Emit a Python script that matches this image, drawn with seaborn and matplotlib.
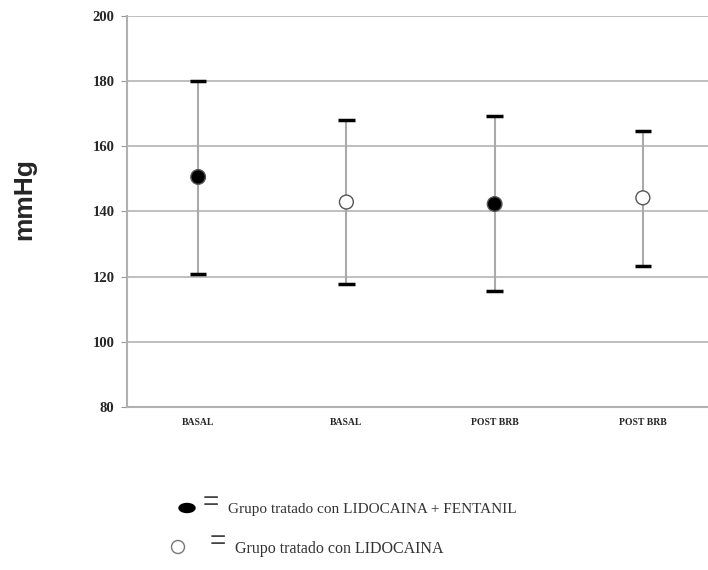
import numpy as np
import pandas as pd
import matplotlib
matplotlib.use("Agg")
import matplotlib.pyplot as plt
from matplotlib.patches import Ellipse
import seaborn as sns

# data
categories = ["BASAL", "BASAL", "POST BRB", "POST BRB"]
groups = ["LIDOCAINA + FENTANIL", "LIDOCAINA", "LIDOCAINA + FENTANIL", "LIDOCAINA"]
means = [150.6, 142.9, 142.3, 144.2]
upper = [180.0, 168.1, 169.3, 164.7]
lower = [120.7, 117.8, 115.6, 123.3]
yticks = [80, 100, 120, 140, 160, 180, 200]

df = pd.DataFrame({
    "pos": np.arange(len(categories)),
    "cat": categories,
    "grupo": groups,
    "media": means,
    "sup": upper,
    "inf": lower,
})

sns.set_style("white")
fig = plt.figure(figsize=(7.08, 5.70), dpi=100)
ax = fig.add_axes([127 / 708, 1 - 407 / 570, (717 - 127) / 708, (407 - 16) / 570])

# grid
for y in yticks:
    ax.axhline(y, color="#b4b4b4", lw=1.2, zorder=0)

# error bars: gray stem, black caps
ax.vlines(df["pos"], df["inf"], df["sup"], color="#aaaaaa", lw=1.5, zorder=1)
ax.hlines(df["sup"], df["pos"] - 0.055, df["pos"] + 0.055, color="black", lw=2.5, zorder=2)
ax.hlines(df["inf"], df["pos"] - 0.055, df["pos"] + 0.055, color="black", lw=2.5, zorder=2)

sns.scatterplot(
    data=df, x="pos", y="media", hue="grupo", style="grupo",
    palette={"LIDOCAINA + FENTANIL": "black", "LIDOCAINA": "white"},
    markers={"LIDOCAINA + FENTANIL": "o", "LIDOCAINA": "o"},
    s=[110, 100, 110, 100], edgecolor="#555555", linewidth=1.0,
    legend=False, ax=ax, zorder=3,
)

ax.set_xlim(-0.48, 3.5)
ax.set_ylim(80, 200)
ax.set_yticks(yticks)
ax.set_yticklabels([str(v) for v in yticks], family="Liberation Serif",
                   fontweight="bold", fontsize=10.5)
ax.set_xticks(df["pos"])
ax.set_xticklabels(categories, family="Liberation Serif", fontweight="bold", fontsize=7)
ax.set_xticks([-0.48, 0.5, 1.5, 2.5], minor=True)
ax.tick_params(axis="x", which="major", length=0, pad=8)
ax.tick_params(axis="x", which="minor", length=3, color="#999999", direction="inout")
ax.tick_params(axis="y", length=4, color="#999999", pad=5, left=True)
ax.set_xlabel("")
ax.set_ylabel("")

for s in ["top", "right"]:
    ax.spines[s].set_visible(False)
for s in ["left", "bottom"]:
    ax.spines[s].set_color("#b0b0b0")
    ax.spines[s].set_linewidth(1.5)

fig.text(24 / 708, 1 - 199 / 570, "mmHg", rotation=90, ha="center", va="center",
         fontsize=19, fontweight="bold", family="Liberation Sans")

# legend drawn below the axes
fig.add_artist(Ellipse((187 / 708, 1 - 508 / 570), 16 / 708, 9 / 570,
                       transform=fig.transFigure, color="black"))
fig.add_artist(Ellipse((178 / 708, 1 - 547 / 570), 13 / 708, 13 / 570,
                       transform=fig.transFigure, facecolor="white",
                       edgecolor="#777777", lw=1.0))
fig.text(211 / 708, 1 - 503 / 570, "=", fontsize=20, ha="center", va="center",
         family="Liberation Sans", color="#444444")
fig.text(218 / 708, 1 - 542 / 570, "=", fontsize=20, ha="center", va="center",
         family="Liberation Sans", color="#444444")
fig.text(228 / 708, 1 - 509 / 570, "Grupo tratado con LIDOCAINA + FENTANIL",
         fontsize=11, va="center", family="Liberation Serif", color="#333333")
fig.text(235 / 708, 1 - 549 / 570, "Grupo tratado con LIDOCAINA",
         fontsize=11.5, va="center", family="Liberation Serif", color="#333333")

fig.savefig("out.png", dpi=100)
